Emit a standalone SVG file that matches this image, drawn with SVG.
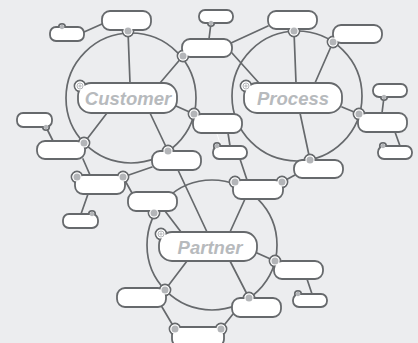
<svg xmlns="http://www.w3.org/2000/svg" width="418" height="343" viewBox="0 0 418 343">
<defs>
<style>
.ring{fill:none;stroke:#66696c;stroke-width:1.7}
.edge{stroke:#66696c;stroke-width:1.7;fill:none;stroke-linecap:round}
.box{fill:#fff;stroke:#66696c;stroke-width:1.8}
.bump{fill:#fff;stroke:#66696c;stroke-width:1.8}
.cover{fill:#fff}
.dot{fill:#b3b5b8}
.ico{fill:none;stroke:#b3b5b8;stroke-width:1}
.lbl{font-family:"Liberation Sans",Arial,sans-serif;font-weight:bold;font-style:italic;font-size:18.5px;fill:#b7babd;text-anchor:middle}
</style>
</defs>
<rect width="418" height="343" fill="#ecedef"/>
<g id="rings">
<circle class="ring" cx="131" cy="98" r="65"/>
<circle class="ring" cx="297" cy="96" r="65"/>
<circle class="ring" cx="212" cy="245" r="65"/>
</g>
<g id="connectors">
<line class="edge" x1="84" y1="32" x2="102" y2="24"/>
<line class="edge" x1="128" y1="31" x2="130" y2="83"/>
<line class="edge" x1="183" y1="56" x2="160" y2="83"/>
<line class="edge" x1="211" y1="23" x2="209" y2="39"/>
<line class="edge" x1="231" y1="43" x2="268" y2="26"/>
<line class="edge" x1="232" y1="53" x2="259" y2="83"/>
<line class="edge" x1="294" y1="31" x2="296" y2="83"/>
<line class="edge" x1="333" y1="42" x2="315" y2="83"/>
<line class="edge" x1="359" y1="114" x2="342" y2="107"/>
<line class="edge" x1="384" y1="97" x2="382" y2="113"/>
<line class="edge" x1="395" y1="132" x2="400" y2="146"/>
<line class="edge" x1="310" y1="160" x2="300" y2="113"/>
<line class="edge" x1="194" y1="114" x2="176" y2="106"/>
<line class="edge" x1="228" y1="133" x2="230" y2="146"/>
<line class="edge" x1="240" y1="159" x2="247" y2="180"/>
<line x1="217" y1="134" x2="220" y2="143" stroke="#ffffff" stroke-width="0.8"/>
<line class="edge" x1="282" y1="182" x2="295" y2="175"/>
<line class="edge" x1="245" y1="199" x2="230" y2="232"/>
<line class="edge" x1="168" y1="151" x2="150" y2="113"/>
<line class="edge" x1="178" y1="170" x2="207" y2="232"/>
<line class="edge" x1="152" y1="167" x2="123" y2="177"/>
<line class="edge" x1="84" y1="143" x2="107" y2="113"/>
<line class="edge" x1="46" y1="127" x2="53" y2="141"/>
<line class="edge" x1="83" y1="159" x2="90" y2="175"/>
<line class="edge" x1="88" y1="194" x2="81" y2="214"/>
<line class="edge" x1="123" y1="177" x2="132" y2="193"/>
<line class="edge" x1="165" y1="211" x2="181" y2="232"/>
<line class="edge" x1="275" y1="261" x2="257" y2="253"/>
<line class="edge" x1="307" y1="279" x2="312" y2="294"/>
<line class="edge" x1="249" y1="298" x2="230" y2="261"/>
<line class="edge" x1="233" y1="314" x2="221" y2="329"/>
<line class="edge" x1="165" y1="290" x2="187" y2="261"/>
<line class="edge" x1="162" y1="307" x2="175" y2="329"/>
</g>

<g id="customer">
<circle class="bump" cx="80" cy="86" r="5.5"/>
<rect class="box" x="78" y="83" width="99" height="30" rx="13"/>
<circle class="cover" cx="80" cy="86" r="4.6"/>
<circle class="ico" cx="80" cy="86" r="3"/>
<path class="ico" d="M78.3 86h3.4M80 84.3v3.4"/>
<text class="lbl" x="128" y="104.5">Customer</text>
</g>
<g id="process">
<circle class="bump" cx="246" cy="86" r="5.5"/>
<rect class="box" x="244" y="83" width="98" height="30" rx="13"/>
<circle class="cover" cx="246" cy="86" r="4.6"/>
<circle class="ico" cx="246" cy="86" r="3"/>
<path class="ico" d="M244.3 86h3.4M246 84.3v3.4"/>
<text class="lbl" x="293" y="105">Process</text>
</g>
<g id="partner">
<circle class="bump" cx="161" cy="234" r="5.5"/>
<rect class="box" x="159" y="232" width="98" height="29" rx="13"/>
<circle class="cover" cx="161" cy="234" r="4.6"/>
<circle class="ico" cx="161" cy="234" r="3"/>
<path class="ico" d="M159.3 234h3.4M161 232.3v3.4"/>
<text class="lbl" x="210" y="253.5">Partner</text>
</g>

<g id="n1">
<circle class="bump" cx="62" cy="27" r="3.2"/>
<rect class="box" x="50" y="27" width="34" height="14" rx="6"/>
<circle class="cover" cx="62" cy="27" r="2.3"/>
<circle class="dot" cx="62" cy="27" r="2.2"/>
</g>
<g id="n2">
<circle class="bump" cx="128" cy="31" r="5.5"/>
<rect class="box" x="102" y="11" width="49" height="19" rx="8"/>
<circle class="cover" cx="128" cy="31" r="4.6"/>
<circle class="dot" cx="128" cy="31" r="3.5"/>
</g>
<g id="n3">
<circle class="bump" cx="183" cy="56" r="5.5"/>
<rect class="box" x="182" y="39" width="50" height="18" rx="8"/>
<circle class="cover" cx="183" cy="56" r="4.6"/>
<circle class="dot" cx="183" cy="56" r="3.5"/>
</g>
<g id="n4">
<circle class="bump" cx="211" cy="23" r="3.2"/>
<rect class="box" x="199" y="10" width="34" height="13" rx="6"/>
<circle class="cover" cx="211" cy="23" r="2.3"/>
<circle class="dot" cx="211" cy="23" r="2.2"/>
</g>
<g id="n5">
<circle class="bump" cx="294" cy="31" r="5.5"/>
<rect class="box" x="268" y="11" width="49" height="18" rx="8"/>
<circle class="cover" cx="294" cy="31" r="4.6"/>
<circle class="dot" cx="294" cy="31" r="3.5"/>
</g>
<g id="n6">
<circle class="bump" cx="333" cy="42" r="5.5"/>
<rect class="box" x="333" y="25" width="49" height="18" rx="8"/>
<circle class="cover" cx="333" cy="42" r="4.6"/>
<circle class="dot" cx="333" cy="42" r="3.5"/>
</g>
<g id="n7">
<circle class="bump" cx="384" cy="97" r="3.2"/>
<rect class="box" x="373" y="84" width="34" height="13" rx="6"/>
<circle class="cover" cx="384" cy="97" r="2.3"/>
<circle class="dot" cx="384" cy="97" r="2.2"/>
</g>
<g id="n8">
<circle class="bump" cx="359" cy="114" r="5.5"/>
<rect class="box" x="358" y="113" width="49" height="19" rx="8"/>
<circle class="cover" cx="359" cy="114" r="4.6"/>
<circle class="dot" cx="359" cy="114" r="3.5"/>
</g>
<g id="n9">
<circle class="bump" cx="383" cy="146" r="3.2"/>
<rect class="box" x="378" y="146" width="34" height="13" rx="6"/>
<circle class="cover" cx="383" cy="146" r="2.3"/>
<circle class="dot" cx="383" cy="146" r="2.2"/>
</g>
<g id="n10">
<circle class="bump" cx="310" cy="160" r="5.5"/>
<rect class="box" x="294" y="160" width="49" height="18" rx="8"/>
<circle class="cover" cx="310" cy="160" r="4.6"/>
<circle class="dot" cx="310" cy="160" r="3.5"/>
</g>
<g id="n11">
<circle class="bump" cx="194" cy="114" r="5.5"/>
<rect class="box" x="193" y="114" width="49" height="19" rx="8"/>
<circle class="cover" cx="194" cy="114" r="4.6"/>
<circle class="dot" cx="194" cy="114" r="3.5"/>
</g>
<g id="n12">
<circle class="bump" cx="217" cy="146" r="3.2"/>
<rect class="box" x="213" y="146" width="34" height="13" rx="6"/>
<circle class="cover" cx="217" cy="146" r="2.3"/>
<circle class="dot" cx="217" cy="146" r="2.2"/>
</g>
<g id="n13">
<circle class="bump" cx="235" cy="182" r="5.5"/>
<circle class="bump" cx="282" cy="182" r="5.5"/>
<rect class="box" x="233" y="180" width="50" height="19" rx="8"/>
<circle class="cover" cx="235" cy="182" r="4.6"/>
<circle class="cover" cx="282" cy="182" r="4.6"/>
<circle class="dot" cx="235" cy="182" r="3.5"/>
<circle class="dot" cx="282" cy="182" r="3.5"/>
</g>
<g id="n14">
<circle class="bump" cx="275" cy="261" r="5.5"/>
<rect class="box" x="274" y="261" width="49" height="18" rx="8"/>
<circle class="cover" cx="275" cy="261" r="4.6"/>
<circle class="dot" cx="275" cy="261" r="3.5"/>
</g>
<g id="n15">
<circle class="bump" cx="298" cy="294" r="3.2"/>
<rect class="box" x="293" y="294" width="34" height="13" rx="6"/>
<circle class="cover" cx="298" cy="294" r="2.3"/>
<circle class="dot" cx="298" cy="294" r="2.2"/>
</g>
<g id="n16">
<circle class="bump" cx="249" cy="298" r="5.5"/>
<rect class="box" x="232" y="298" width="49" height="19" rx="8"/>
<circle class="cover" cx="249" cy="298" r="4.6"/>
<circle class="dot" cx="249" cy="298" r="3.5"/>
</g>
<g id="n17">
<circle class="bump" cx="175" cy="329" r="5.5"/>
<circle class="bump" cx="221" cy="329" r="5.5"/>
<rect class="box" x="172" y="327" width="52" height="20" rx="8"/>
<circle class="cover" cx="175" cy="329" r="4.6"/>
<circle class="cover" cx="221" cy="329" r="4.6"/>
<circle class="dot" cx="175" cy="329" r="3.5"/>
<circle class="dot" cx="221" cy="329" r="3.5"/>
</g>
<g id="n18">
<circle class="bump" cx="165" cy="290" r="5.5"/>
<rect class="box" x="117" y="288" width="49" height="19" rx="8"/>
<circle class="cover" cx="165" cy="290" r="4.6"/>
<circle class="dot" cx="165" cy="290" r="3.5"/>
</g>
<g id="n19">
<circle class="bump" cx="154" cy="213" r="5.5"/>
<rect class="box" x="128" y="192" width="49" height="19" rx="8"/>
<circle class="cover" cx="154" cy="213" r="4.6"/>
<circle class="dot" cx="154" cy="213" r="3.5"/>
</g>
<g id="n20">
<circle class="bump" cx="77" cy="177" r="5.5"/>
<circle class="bump" cx="123" cy="177" r="5.5"/>
<rect class="box" x="75" y="175" width="50" height="19" rx="8"/>
<circle class="cover" cx="77" cy="177" r="4.6"/>
<circle class="cover" cx="123" cy="177" r="4.6"/>
<circle class="dot" cx="77" cy="177" r="3.5"/>
<circle class="dot" cx="123" cy="177" r="3.5"/>
</g>
<g id="n21">
<circle class="bump" cx="92" cy="214" r="3.2"/>
<rect class="box" x="63" y="214" width="35" height="14" rx="6"/>
<circle class="cover" cx="92" cy="214" r="2.3"/>
<circle class="dot" cx="92" cy="214" r="2.2"/>
</g>
<g id="n22">
<circle class="bump" cx="168" cy="151" r="5.5"/>
<rect class="box" x="152" y="151" width="49" height="19" rx="8"/>
<circle class="cover" cx="168" cy="151" r="4.6"/>
<circle class="dot" cx="168" cy="151" r="3.5"/>
</g>
<g id="n23">
<circle class="bump" cx="84" cy="143" r="5.5"/>
<rect class="box" x="37" y="141" width="48" height="18" rx="8"/>
<circle class="cover" cx="84" cy="143" r="4.6"/>
<circle class="dot" cx="84" cy="143" r="3.5"/>
</g>
<g id="n24">
<circle class="bump" cx="46" cy="127" r="3.2"/>
<rect class="box" x="17" y="113" width="35" height="14" rx="6"/>
<circle class="cover" cx="46" cy="127" r="2.3"/>
<circle class="dot" cx="46" cy="127" r="2.2"/>
</g>
</svg>
